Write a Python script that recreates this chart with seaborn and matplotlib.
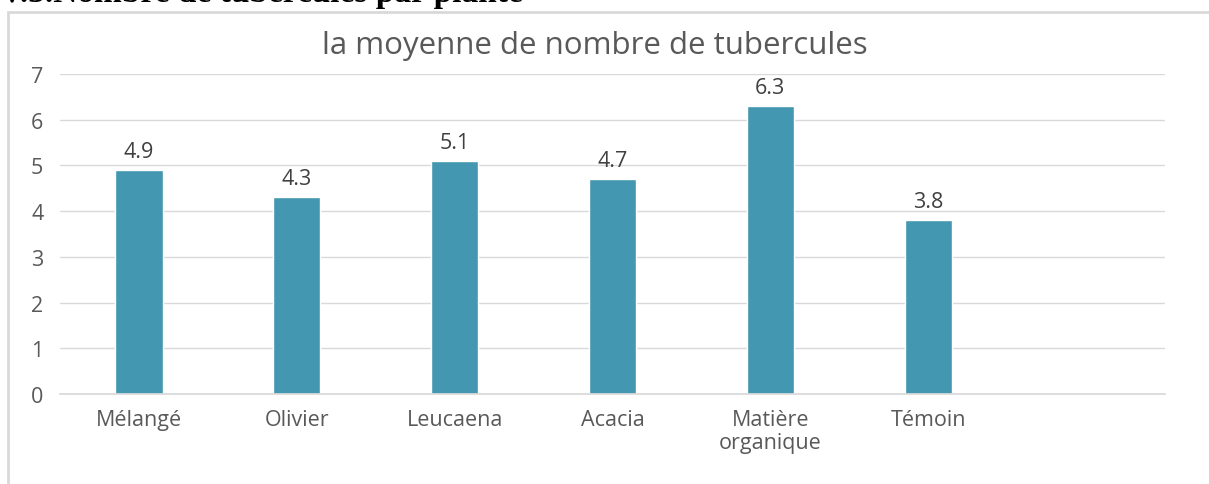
import matplotlib.pyplot as plt
import seaborn as sns
import pandas as pd
from matplotlib.patches import Rectangle

# Données du graphique
categories = ['Mélangé', 'Olivier', 'Leucaena', 'Acacia', 'Matière\norganique', 'Témoin']
moyennes = [4.9, 4.3, 5.1, 4.7, 6.3, 3.8]

df = pd.DataFrame({'traitement': categories, 'tubercules': moyennes})

sns.set_theme(style='white')
plt.rcParams['font.family'] = ['Open Sans', 'DejaVu Sans']

fig = plt.figure(figsize=(12.09, 4.85), dpi=100)
ax = fig.add_axes([0.0496, 0.1856, 0.9140, 0.6598])

sns.barplot(data=df, x='traitement', y='tubercules', color='#4397B0',
            saturation=1, width=0.30, ax=ax)
ax.bar_label(ax.containers[0], fmt='%.1f', padding=6, fontsize=15.5, color='#404040')

ax.set_xlim(-0.5, 6.5)
ax.set_ylim(0, 7)
ax.set_yticks(range(0, 8))
ax.yaxis.grid(True, color='#d9d9d9', linewidth=1)
ax.set_axisbelow(True)
ax.set_xlabel('')
ax.set_ylabel('')
for side in ['left', 'right', 'top']:
    ax.spines[side].set_visible(False)
ax.spines['bottom'].set_color('#d9d9d9')
ax.tick_params(axis='both', length=0, labelsize=15.5, labelcolor='#595959')
ax.tick_params(axis='x', pad=11)
ax.tick_params(axis='y', pad=12)
plt.setp(ax.get_xticklabels(), linespacing=1.1)

# Titre du graphique
fig.text(0.492, 0.905, 'la moyenne de nombre de tubercules', ha='center', va='center',
         fontsize=22.5, color='#595959')

# Cadre du graphique et titre de section coupé
fig.patches.append(Rectangle((0.0066, -0.05), 1.2, 1.023, transform=fig.transFigure,
                             fill=False, edgecolor='#d9d9d9', linewidth=2))
fig.text(0.0, 1.013, 'V.3.Nombre de tubercules par plante', ha='left', va='center',
         fontsize=24, fontweight='bold', family=['Liberation Serif', 'DejaVu Serif'],
         color='black')

plt.savefig('out.png', dpi=100)
plt.close()
